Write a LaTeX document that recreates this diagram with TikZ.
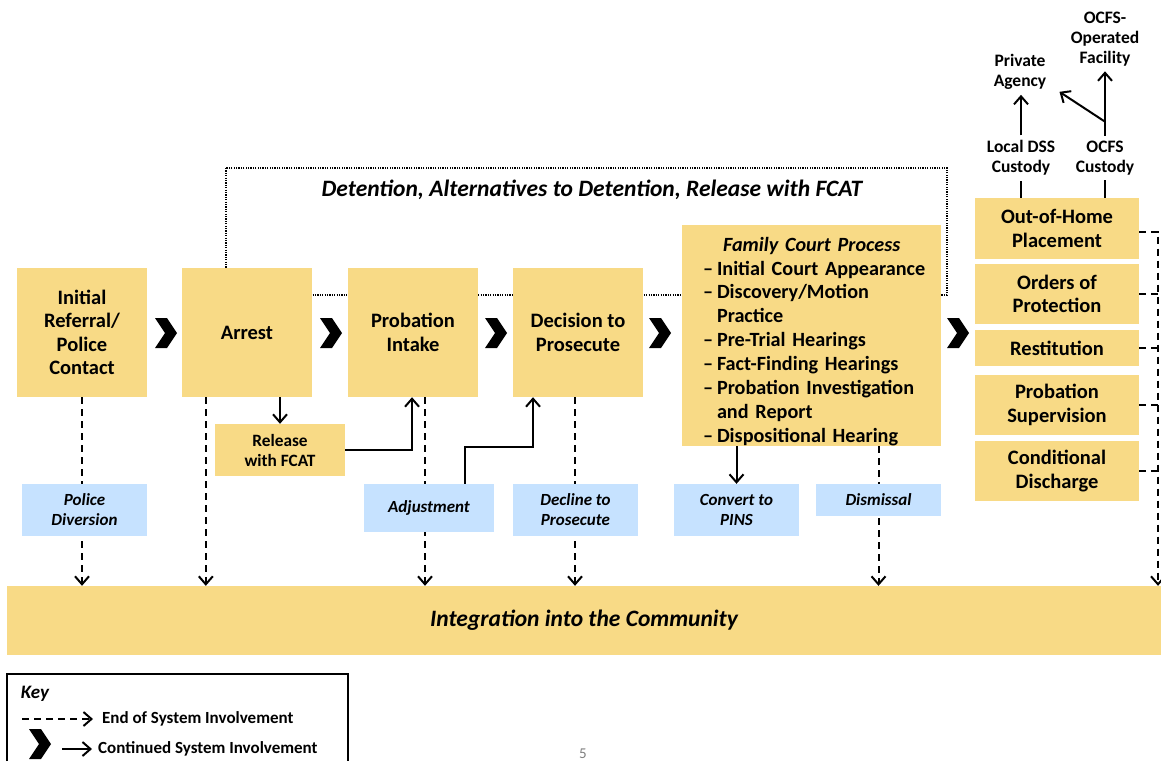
\documentclass[tikz,border=0pt]{standalone}
\usepackage{fontspec}
\setmainfont{Carlito}
\usetikzlibrary{arrows.meta,backgrounds}
\definecolor{stagefill}{RGB}{248,218,134}
\definecolor{exitfill}{RGB}{198,226,255}
\newcommand{\fcitem}{\hspace*{21pt}\makebox[14pt][l]{--}}
\newcommand{\fcmore}{\hspace*{35pt}}

\begin{document}
\begin{tikzpicture}[x=1pt, y=-1pt, >={Straight Barb[length=8pt,width=14pt]},
    stage/.style={fill=stagefill, align=center, inner sep=0pt, font=\fontsize{20.5}{23.5}\selectfont\bfseries},
    exitbox/.style={fill=exitfill, align=center, inner sep=0pt, font=\fontsize{17}{20}\selectfont\bfseries\itshape},
    boxwh/.style 2 args={minimum width=#1, minimum height=#2},
    smalltext/.style={align=center, inner sep=5pt, font=\fontsize{17.5}{20}\selectfont\bfseries},
    endflow/.style={->, line width=2pt, dash pattern=on 7pt off 5pt},
    endline/.style={line width=2pt, dash pattern=on 7pt off 5pt},
    flow/.style={->, line width=2pt},
    detframe/.style={line width=1.2pt, dash pattern=on 1.2pt off 1.2pt},
    chev/.pic={\fill (-11,-15) -- (1,-15) -- (11,0) -- (1,15) -- (-11,15) -- (-1,0) -- cycle;}]
\useasboundingbox (0,0) rectangle (1161,761);

% stages
\node[stage, boxwh={130}{129}] (referral) at (82,332.5) {Initial\\Referral/\\Police\\Contact};
\node[stage, boxwh={130}{129}] (arrest) at (247,332.5) {Arrest};
\node[stage, boxwh={130}{129}] (intake) at (413,332.5) {Probation\\Intake};
\node[stage, boxwh={130}{129}] (decision) at (578,332.5) {Decision to\\Prosecute};
\node[stage, boxwh={259}{221}, text width=259, align=left, font=\fontsize{20.2}{23.9}\selectfont\bfseries] (court) at (811.5,335.5)
  {\rule{0pt}{26pt}\hspace*{41pt}\textit{Family Court Process}\\
   \fcitem Initial Court Appearance\\
   \fcitem Discovery/Motion\\
   \fcmore Practice\\
   \fcitem Pre-Trial Hearings\\
   \fcitem Fact-Finding Hearings\\
   \fcitem Probation Investigation\\
   \fcmore and Report\\
   \fcitem Dispositional Hearing};

% dispositions
\node[stage, boxwh={164}{61}] (placement) at (1057,228.5) {Out-of-Home\\Placement};
\node[stage, boxwh={164}{60}] (protection) at (1057,294) {Orders of\\Protection};
\node[stage, boxwh={164}{36}] (restitution) at (1057,348) {Restitution};
\node[stage, boxwh={164}{60}] (supervision) at (1057,405) {Probation\\Supervision};
\node[stage, boxwh={164}{60}] (discharge) at (1057,471) {Conditional\\Discharge};

\node[stage, boxwh={130}{52}, font=\fontsize{17.3}{20}\selectfont\bfseries] (release) at (280,450) {Release\\with FCAT};

% exits
\node[exitbox, boxwh={125}{52}] (policediv) at (84.5,510) {Police\\Diversion};
\node[exitbox, boxwh={130}{48}] (adjust) at (429,508) {Adjustment};
\node[exitbox, boxwh={125}{52}] (decline) at (575.5,510) {Decline to\\Prosecute};
\node[exitbox, boxwh={125}{52}] (pins) at (736.5,510) {Convert to\\PINS};
\node[exitbox, boxwh={125}{32}] (dismiss) at (878.5,500) {Dismissal};

\node[stage, boxwh={1154}{69}, font=\fontsize{23.5}{27}\selectfont\bfseries\itshape] (community) at (584,620.5) {Integration into the Community};

\node[font=\fontsize{23.5}{27}\selectfont\bfseries\itshape] (dettitle) at (592,190) {Detention, Alternatives to Detention, Release with FCAT};

% custody labels
\node[smalltext] (localdss) at (1021,158) {Local DSS\\Custody};
\node[smalltext] (ocfs) at (1105,158) {OCFS\\Custody};
\node[smalltext] (private) at (1020,72) {Private\\Agency};
\node[smalltext] (facility) at (1105,39) {OCFS-\\Operated\\Facility};

\coordinate (arrestdrop) at ([xshift=24pt]arrest.south west);
\coordinate (intakedrop) at ([xshift=12pt]intake.south);
\coordinate (decisiondrop) at ([xshift=-3pt]decision.south);
\coordinate (rail) at (1158,232);

\begin{pgfonlayer}{background}
\draw[detframe] (226,168) rectangle (947,295);
\draw[endflow] (referral.south) -- (referral.south |- community.north);
\draw[endflow] (arrestdrop) -- (arrestdrop |- community.north);
\draw[endflow] (intakedrop) -- (intakedrop |- community.north);
\draw[endflow] (decisiondrop) -- (decisiondrop |- community.north);
\draw[endflow] (court.south -| dismiss) -- (dismiss |- community.north);
\draw[endflow] ([yshift=-3pt]placement.east) -| (rail |- community.north);
\foreach \b in {protection,restitution,supervision,discharge}
  \draw[endline] (\b.east) -- (\b.east -| rail);
\end{pgfonlayer}

\draw[flow] (arrest.south -| release) -- (release.north);
\draw[flow] (release.east) -| ([xshift=-1pt]intake.south);
\coordinate (adjrise) at ([xshift=36pt]adjust.north);
\coordinate (decbase) at ([xshift=-45pt]decision.south);
\draw[flow] (adjrise) -- ++(0,-37) -| (decbase);
\draw[flow] (court.south -| pins) -- (pins.north);

\draw[line width=2pt] (placement.north -| localdss) -- (localdss.south);
\draw[line width=2pt] (placement.north -| ocfs) -- (ocfs.south);
\draw[flow] (localdss.north) -- (localdss.north |- private.south);
\draw[flow] (ocfs.north) -- (ocfs.north |- facility.south);
\draw[flow] ([yshift=14pt]ocfs.north) -- ([xshift=8pt,yshift=3pt]private.south east);

\foreach \cx in {166,331,496,660,958}
  \pic at (\cx,333) {chev};

% key
\draw[line width=1.5pt] (7,761) -- (7,674) -- (348,674) -- (348,761);
\node[font=\fontsize{19}{22}\selectfont\bfseries\itshape] (keytitle) at (35,694) {Key};
\node[anchor=west, inner sep=0pt, font=\fontsize{17}{20}\selectfont\bfseries] (keyend) at (102,719) {End of System Involvement};
\node[anchor=west, inner sep=0pt, font=\fontsize{17}{20}\selectfont\bfseries] (keycont) at (98,749) {Continued System Involvement};
\coordinate (keyleft) at (22,0);
\draw[endflow, shorten >=9pt] (keyend.west -| keyleft) -- (keyend.west);
\draw[flow] ([xshift=-36pt]keycont.west) -- ([xshift=-6pt]keycont.west);
\pic at (40,744) {chev};

\node[text=gray, font=\fontsize{15}{18}\selectfont] (pagenum) at (583,754) {5};
\end{tikzpicture}
\end{document}
